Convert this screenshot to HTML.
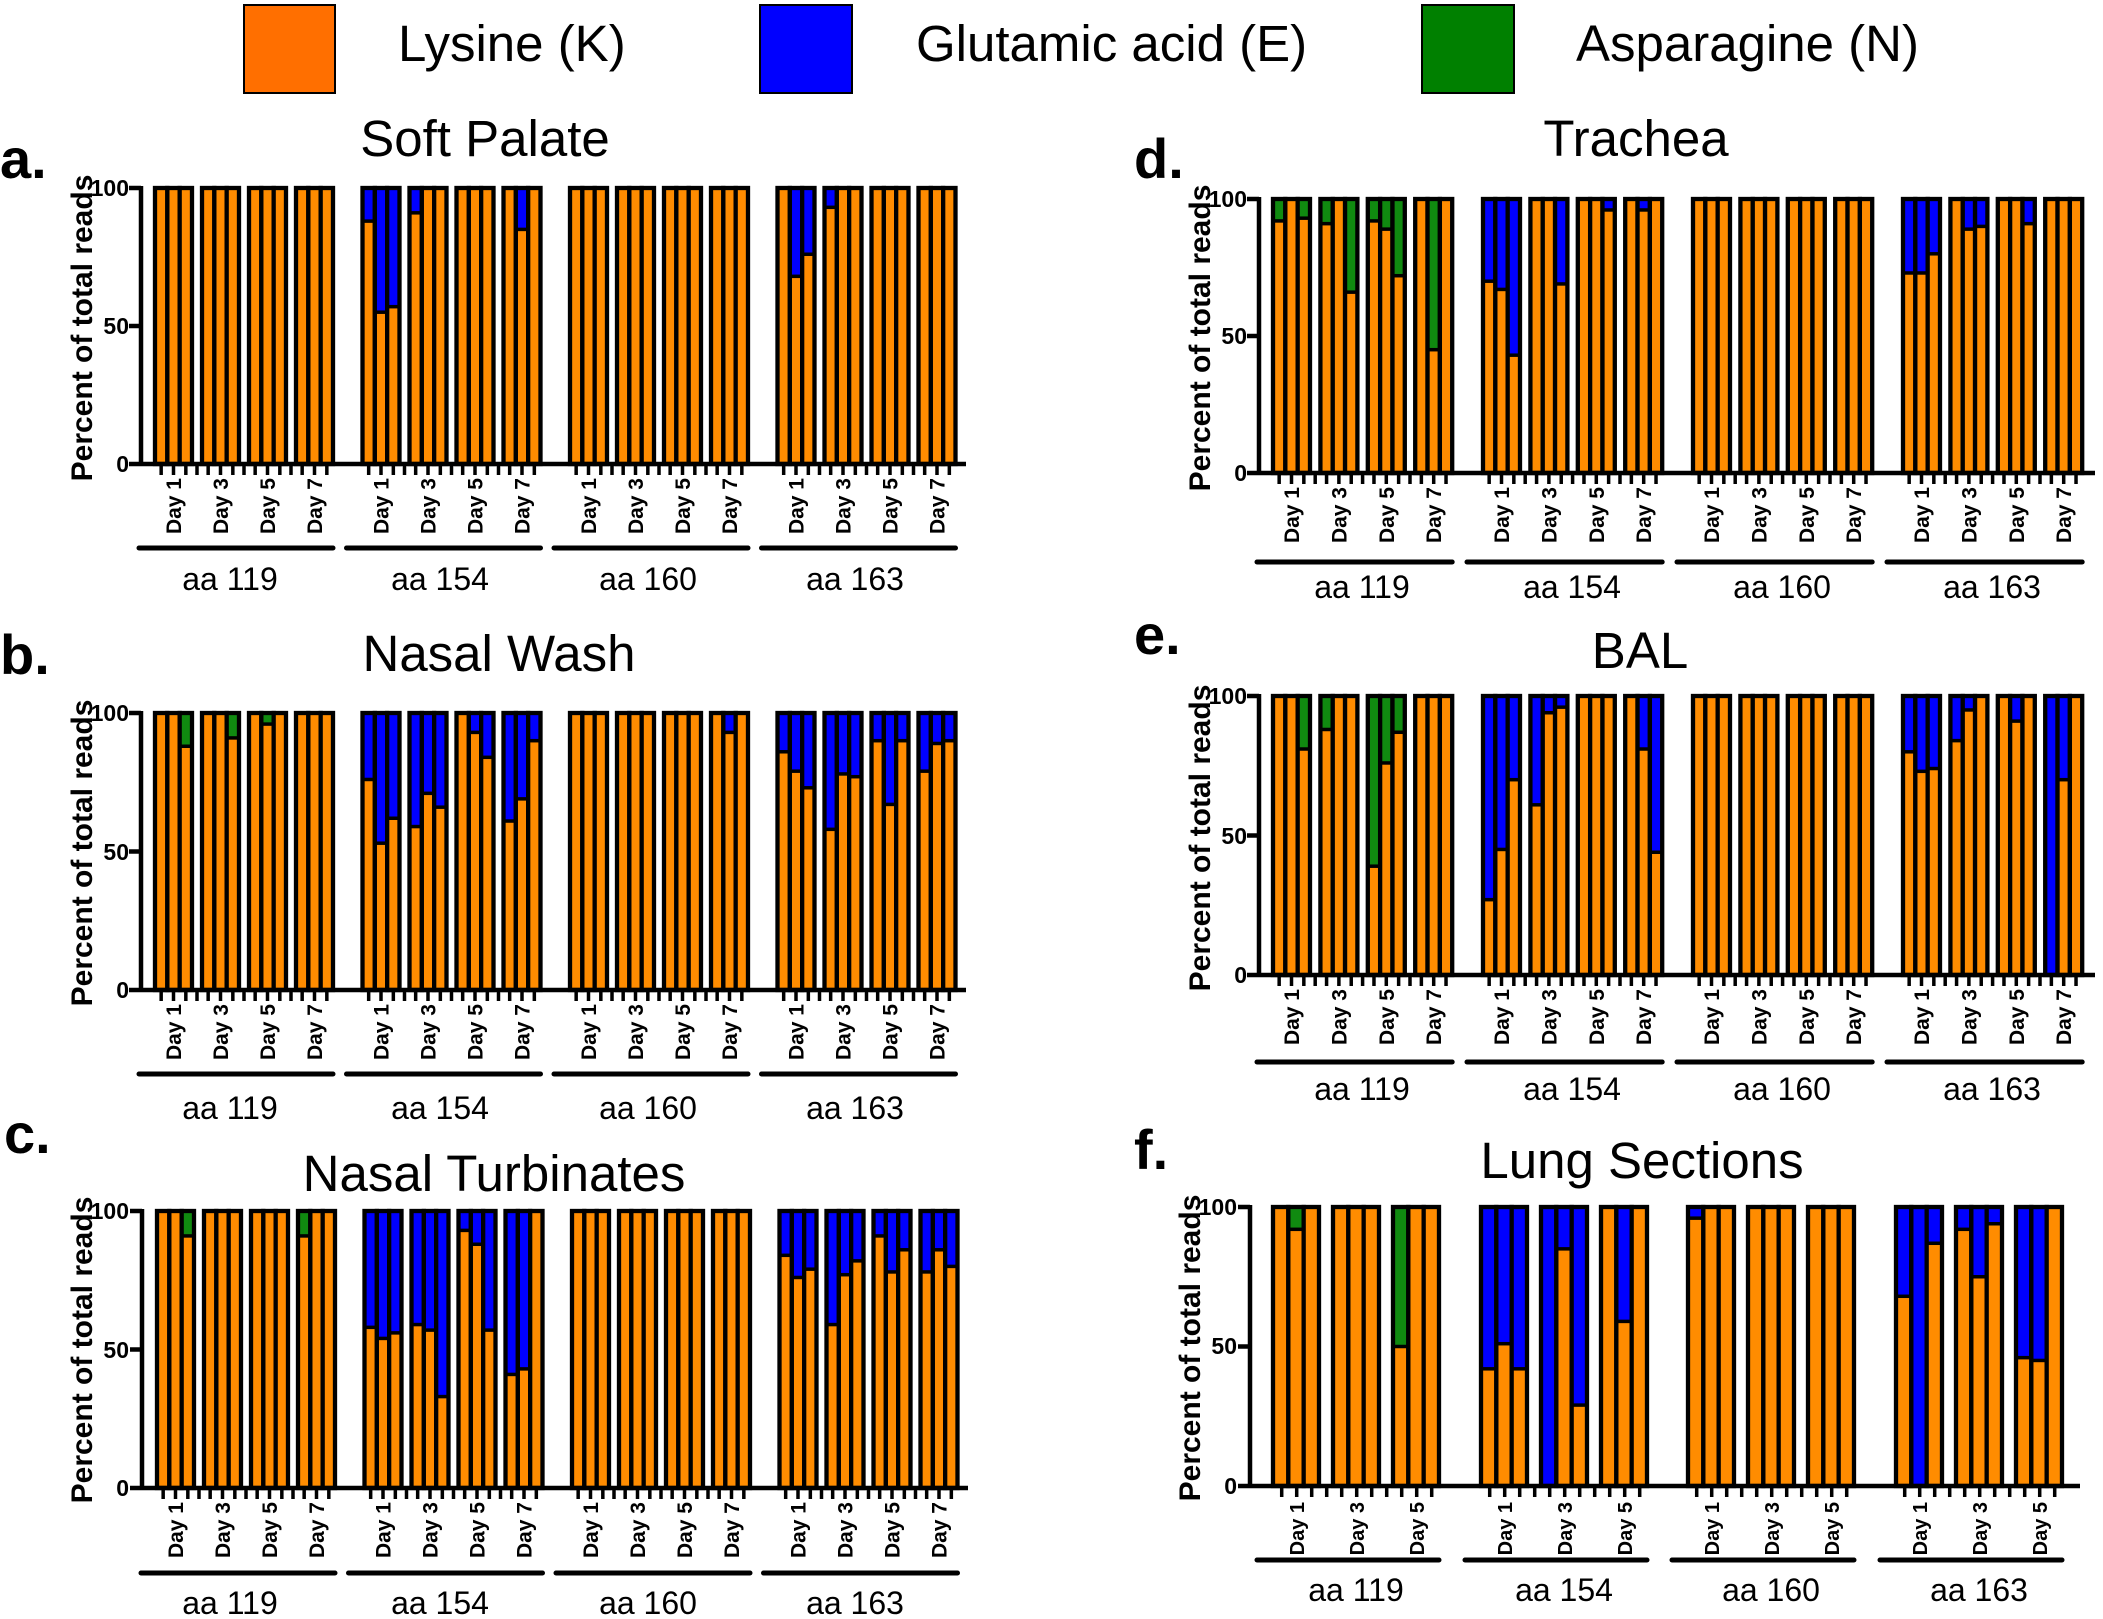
<!DOCTYPE html>
<html><head><meta charset="utf-8"><style>
html,body{margin:0;padding:0;background:#fff;}
svg{display:block;}
text{font-family:"Liberation Sans",Arial,sans-serif;fill:#000;}
.b{font-weight:bold;}
</style></head><body>
<svg id="s" xmlns="http://www.w3.org/2000/svg" width="2103" height="1619" viewBox="0 0 2103 1619">
<rect width="2103" height="1619" fill="#fff"/>
<rect x="244" y="5" width="91" height="88" fill="#FF6F00" stroke="#000" stroke-width="2"/>
<text x="398" y="61" font-size="51">Lysine (K)</text>
<rect x="760" y="5" width="92" height="88" fill="#0000FF" stroke="#000" stroke-width="2"/>
<text x="916" y="61" font-size="51">Glutamic acid (E)</text>
<rect x="1422" y="5" width="92" height="88" fill="#008000" stroke="#000" stroke-width="2"/>
<text x="1576" y="61" font-size="51">Asparagine (N)</text>
<text x="485" y="156" font-size="51" text-anchor="middle">Soft Palate</text>
<text x="499" y="671" font-size="51" text-anchor="middle">Nasal Wash</text>
<text x="494" y="1191" font-size="51" text-anchor="middle">Nasal Turbinates</text>
<text x="1636" y="156" font-size="51" text-anchor="middle">Trachea</text>
<text x="1640" y="668" font-size="51" text-anchor="middle">BAL</text>
<text x="1642" y="1178" font-size="51" text-anchor="middle">Lung Sections</text>
<text class="b" x="0" y="178" font-size="56">a.</text>
<text class="b" x="0" y="674" font-size="56">b.</text>
<text class="b" x="4" y="1153" font-size="56">c.</text>
<text class="b" x="1134" y="178" font-size="56">d.</text>
<text class="b" x="1134" y="654" font-size="56">e.</text>
<text class="b" x="1134" y="1169" font-size="56">f.</text>
<text class="b" font-size="30" text-anchor="middle" transform="translate(92,328) rotate(-90)">Percent of total reads</text>
<text class="b" font-size="30" text-anchor="middle" transform="translate(92,853) rotate(-90)">Percent of total reads</text>
<text class="b" font-size="30" text-anchor="middle" transform="translate(92,1350) rotate(-90)">Percent of total reads</text>
<text class="b" font-size="30" text-anchor="middle" transform="translate(1210,338) rotate(-90)">Percent of total reads</text>
<text class="b" font-size="30" text-anchor="middle" transform="translate(1210,838) rotate(-90)">Percent of total reads</text>
<text class="b" font-size="30" text-anchor="middle" transform="translate(1200,1348) rotate(-90)">Percent of total reads</text>
<g class="b" font-size="23" text-anchor="end">
<text x="129" y="196">100</text><text x="129" y="334">50</text><text x="129" y="472">0</text>
<text x="129" y="721">100</text><text x="129" y="860">50</text><text x="129" y="998">0</text>
<text x="129" y="1219">100</text><text x="129" y="1358">50</text><text x="129" y="1496">0</text>
<text x="1247" y="207">100</text><text x="1247" y="344">50</text><text x="1247" y="481">0</text>
<text x="1247" y="704">100</text><text x="1247" y="844">50</text><text x="1247" y="983">0</text>
<text x="1237" y="1215">100</text><text x="1237" y="1354">50</text><text x="1237" y="1494">0</text>
</g>
<g id="bars"></g>
<g font-size="32" text-anchor="middle">
<text x="230" y="590">aa 119</text><text x="440" y="590">aa 154</text><text x="648" y="590">aa 160</text><text x="855" y="590">aa 163</text>
<text x="230" y="1119">aa 119</text><text x="440" y="1119">aa 154</text><text x="648" y="1119">aa 160</text><text x="855" y="1119">aa 163</text>
<text x="230" y="1614">aa 119</text><text x="440" y="1614">aa 154</text><text x="648" y="1614">aa 160</text><text x="855" y="1614">aa 163</text>
<text x="1362" y="598">aa 119</text><text x="1572" y="598">aa 154</text><text x="1782" y="598">aa 160</text><text x="1992" y="598">aa 163</text>
<text x="1362" y="1100">aa 119</text><text x="1572" y="1100">aa 154</text><text x="1782" y="1100">aa 160</text><text x="1992" y="1100">aa 163</text>
<text x="1356" y="1601">aa 119</text><text x="1564" y="1601">aa 154</text><text x="1771" y="1601">aa 160</text><text x="1979" y="1601">aa 163</text>
</g>
<g class="b" font-size="21" text-anchor="end">
<g transform="translate(155,478)">
<g><text transform="translate(26,0) rotate(-90)">Day 1</text><text transform="translate(73,0) rotate(-90)">Day 3</text><text transform="translate(120,0) rotate(-90)">Day 5</text><text transform="translate(167,0) rotate(-90)">Day 7</text></g>
<g transform="translate(207.5,0)"><text transform="translate(26,0) rotate(-90)">Day 1</text><text transform="translate(73,0) rotate(-90)">Day 3</text><text transform="translate(120,0) rotate(-90)">Day 5</text><text transform="translate(167,0) rotate(-90)">Day 7</text></g>
<g transform="translate(415,0)"><text transform="translate(26,0) rotate(-90)">Day 1</text><text transform="translate(73,0) rotate(-90)">Day 3</text><text transform="translate(120,0) rotate(-90)">Day 5</text><text transform="translate(167,0) rotate(-90)">Day 7</text></g>
<g transform="translate(622.5,0)"><text transform="translate(26,0) rotate(-90)">Day 1</text><text transform="translate(73,0) rotate(-90)">Day 3</text><text transform="translate(120,0) rotate(-90)">Day 5</text><text transform="translate(167,0) rotate(-90)">Day 7</text></g>
</g>
<g transform="translate(155,1004)">
<g><text transform="translate(26,0) rotate(-90)">Day 1</text><text transform="translate(73,0) rotate(-90)">Day 3</text><text transform="translate(120,0) rotate(-90)">Day 5</text><text transform="translate(167,0) rotate(-90)">Day 7</text></g>
<g transform="translate(207.5,0)"><text transform="translate(26,0) rotate(-90)">Day 1</text><text transform="translate(73,0) rotate(-90)">Day 3</text><text transform="translate(120,0) rotate(-90)">Day 5</text><text transform="translate(167,0) rotate(-90)">Day 7</text></g>
<g transform="translate(415,0)"><text transform="translate(26,0) rotate(-90)">Day 1</text><text transform="translate(73,0) rotate(-90)">Day 3</text><text transform="translate(120,0) rotate(-90)">Day 5</text><text transform="translate(167,0) rotate(-90)">Day 7</text></g>
<g transform="translate(622.5,0)"><text transform="translate(26,0) rotate(-90)">Day 1</text><text transform="translate(73,0) rotate(-90)">Day 3</text><text transform="translate(120,0) rotate(-90)">Day 5</text><text transform="translate(167,0) rotate(-90)">Day 7</text></g>
</g>
<g transform="translate(157,1502)">
<g><text transform="translate(26,0) rotate(-90)">Day 1</text><text transform="translate(73,0) rotate(-90)">Day 3</text><text transform="translate(120,0) rotate(-90)">Day 5</text><text transform="translate(167,0) rotate(-90)">Day 7</text></g>
<g transform="translate(207.5,0)"><text transform="translate(26,0) rotate(-90)">Day 1</text><text transform="translate(73,0) rotate(-90)">Day 3</text><text transform="translate(120,0) rotate(-90)">Day 5</text><text transform="translate(167,0) rotate(-90)">Day 7</text></g>
<g transform="translate(415,0)"><text transform="translate(26,0) rotate(-90)">Day 1</text><text transform="translate(73,0) rotate(-90)">Day 3</text><text transform="translate(120,0) rotate(-90)">Day 5</text><text transform="translate(167,0) rotate(-90)">Day 7</text></g>
<g transform="translate(622.5,0)"><text transform="translate(26,0) rotate(-90)">Day 1</text><text transform="translate(73,0) rotate(-90)">Day 3</text><text transform="translate(120,0) rotate(-90)">Day 5</text><text transform="translate(167,0) rotate(-90)">Day 7</text></g>
</g>
<g transform="translate(1273,487)">
<g><text transform="translate(26,0) rotate(-90)">Day 1</text><text transform="translate(73.4,0) rotate(-90)">Day 3</text><text transform="translate(120.8,0) rotate(-90)">Day 5</text><text transform="translate(168.2,0) rotate(-90)">Day 7</text></g>
<g transform="translate(210,0)"><text transform="translate(26,0) rotate(-90)">Day 1</text><text transform="translate(73.4,0) rotate(-90)">Day 3</text><text transform="translate(120.8,0) rotate(-90)">Day 5</text><text transform="translate(168.2,0) rotate(-90)">Day 7</text></g>
<g transform="translate(420,0)"><text transform="translate(26,0) rotate(-90)">Day 1</text><text transform="translate(73.4,0) rotate(-90)">Day 3</text><text transform="translate(120.8,0) rotate(-90)">Day 5</text><text transform="translate(168.2,0) rotate(-90)">Day 7</text></g>
<g transform="translate(630,0)"><text transform="translate(26,0) rotate(-90)">Day 1</text><text transform="translate(73.4,0) rotate(-90)">Day 3</text><text transform="translate(120.8,0) rotate(-90)">Day 5</text><text transform="translate(168.2,0) rotate(-90)">Day 7</text></g>
</g>
<g transform="translate(1273,989)">
<g><text transform="translate(26,0) rotate(-90)">Day 1</text><text transform="translate(73.4,0) rotate(-90)">Day 3</text><text transform="translate(120.8,0) rotate(-90)">Day 5</text><text transform="translate(168.2,0) rotate(-90)">Day 7</text></g>
<g transform="translate(210,0)"><text transform="translate(26,0) rotate(-90)">Day 1</text><text transform="translate(73.4,0) rotate(-90)">Day 3</text><text transform="translate(120.8,0) rotate(-90)">Day 5</text><text transform="translate(168.2,0) rotate(-90)">Day 7</text></g>
<g transform="translate(420,0)"><text transform="translate(26,0) rotate(-90)">Day 1</text><text transform="translate(73.4,0) rotate(-90)">Day 3</text><text transform="translate(120.8,0) rotate(-90)">Day 5</text><text transform="translate(168.2,0) rotate(-90)">Day 7</text></g>
<g transform="translate(630,0)"><text transform="translate(26,0) rotate(-90)">Day 1</text><text transform="translate(73.4,0) rotate(-90)">Day 3</text><text transform="translate(120.8,0) rotate(-90)">Day 5</text><text transform="translate(168.2,0) rotate(-90)">Day 7</text></g>
</g>
<g transform="translate(1273,1502)" font-size="20">
<g><text transform="translate(31,0) rotate(-90)">Day 1</text><text transform="translate(91,0) rotate(-90)">Day 3</text><text transform="translate(151,0) rotate(-90)">Day 5</text></g>
<g transform="translate(208,0)"><text transform="translate(31,0) rotate(-90)">Day 1</text><text transform="translate(91,0) rotate(-90)">Day 3</text><text transform="translate(151,0) rotate(-90)">Day 5</text></g>
<g transform="translate(415,0)"><text transform="translate(31,0) rotate(-90)">Day 1</text><text transform="translate(91,0) rotate(-90)">Day 3</text><text transform="translate(151,0) rotate(-90)">Day 5</text></g>
<g transform="translate(623,0)"><text transform="translate(31,0) rotate(-90)">Day 1</text><text transform="translate(91,0) rotate(-90)">Day 3</text><text transform="translate(151,0) rotate(-90)">Day 5</text></g>
</g>
</g>
</svg>
<script>
(function(){
var NS="http://www.w3.org/2000/svg",G=document.getElementById("bars");
function el(t,a){var e=document.createElementNS(NS,t);for(var k in a)e.setAttribute(k,a[k]);G.appendChild(e);return e;}
var OR="#FF8C00",BL="#0000FF",GR="#108A10";
var F=["100","100","100"],A=[F,F,F,F];
var panels=[
{ax:141,x0:155,gp:[0,207.5,415,622.5],dp:47,w:37,t:188,b:464,end:966,lines:[548],
 d:[A,[["88E","55E","57E"],["91E","100","100"],F,["100","85E","100"]],A,[["100","68E","76E"],["93E","100","100"],F,F]]},
{ax:141,x0:155,gp:[0,207.5,415,622.5],dp:47,w:37,t:713,b:990,end:966,lines:[1074],
 d:[[["100","100","88N"],["100","100","91N"],["100","96N","100"],F],
    [["76E","53E","62E"],["59E","71E","66E"],["100","93E","84E"],["61E","69E","90E"]],
    [F,F,F,["100","93E","100"]],
    [["86E","79E","73E"],["58E","78E","77E"],["90E","67E","90E"],["79E","89E","90E"]]]},
{ax:142,x0:157,gp:[0,207.5,415,622.5],dp:47,w:37,t:1211,b:1488,end:968,lines:[1573],
 d:[[["100","100","91N"],F,F,["91N","100","100"]],
    [["58E","54E","56E"],["59E","57E","33E"],["93E","88E","57E"],["41E","43E","100"]],
    A,
    [["84E","76E","79E"],["59E","77E","82E"],["91E","78E","86E"],["78E","86E","80E"]]]},
{ax:1259,x0:1273,gp:[0,210,420,630],dp:47.4,w:37,t:199,b:473,end:2095,lines:[562],
 d:[[["92N","100","93N"],["91N","100","66N"],["92N","89N","72N"],["100","45N","100"]],
    [["70E","67E","43E"],["100","100","69E"],["100","100","96E"],["100","96E","100"]],
    A,
    [["73E","73E","80E"],["100","89E","90E"],["100","100","91E"],F]]},
{ax:1259,x0:1273,gp:[0,210,420,630],dp:47.4,w:37,t:696,b:975,end:2095,lines:[1062],
 d:[[["100","100","81N"],["88N","100","100"],["39N","76N","87N"],F],
    [["27E","45E","70E"],["61E","94E","96E"],F,["100","81E","44E"]],
    A,
    [["80E","73E","74E"],["84E","95E","100"],["100","91E","100"],["0E","70E","100"]]]},
{ax:1250,x0:1273,gp:[0,208,415,623],dp:60,w:46,t:1207,b:1486,end:2080,lines:[1560],even:true,
 d:[[["100","92N","100"],F,["50N","100","100"]],
    [["42E","51E","42E"],["0E","85E","29E"],["100","59E","100"]],
    [["96E","100","100"],F,F],
    [["68E","0E","87E"],["92E","75E","94E"],["46E","45E","100"]]]}
];
panels.forEach(function(p){
  var H=p.b-p.t;
  p.d.forEach(function(grp,g){
    var gx=p.x0+p.gp[g],n=grp.length;
    var lx1=gx-16,lx2=gx+(n-1)*p.dp+p.w;
    el("line",{x1:lx1,x2:lx2,y1:p.lines[0],y2:p.lines[0],stroke:"#000","stroke-width":5,"stroke-linecap":"round"});
    grp.forEach(function(day,d){
      var bx=gx+d*p.dp,bw=p.w/3;
      day.forEach(function(v,i){
        var x=bx+i*bw,pct=parseFloat(v),c=v.slice(-1);
        var yo=p.b-H*pct/100;
        el("rect",{x:x,y:p.t,width:bw,height:H,fill:(c=="N"?GR:BL)});
        if(pct>0)el("rect",{x:x,y:yo,width:bw,height:p.b-yo,fill:OR});
        if(pct>0&&pct<100)el("line",{x1:x,x2:x+bw,y1:yo,y2:yo,stroke:"#000","stroke-width":3.5});
        el("rect",{x:x,y:p.t,width:bw,height:H,fill:"none",stroke:"#000","stroke-width":4.3});
        if(!p.even)el("line",{x1:x+bw/2,x2:x+bw/2,y1:p.b,y2:p.b+11,stroke:"#000","stroke-width":3.5});
      });
      if(!p.even&&d<n-1){var gxx=bx+p.w+(p.dp-p.w)/2;el("line",{x1:gxx,x2:gxx,y1:p.b,y2:p.b+11,stroke:"#000","stroke-width":3.5});}
    });
    if(p.even){for(var k=0;k<11;k++){var tx=gx+8.7+15*k;el("line",{x1:tx,x2:tx,y1:p.b,y2:p.b+11,stroke:"#000","stroke-width":3.5});}}
  });
  el("line",{x1:p.ax,x2:p.ax,y1:p.t-2,y2:p.b+2,stroke:"#000","stroke-width":4.5});
  el("line",{x1:p.ax-12,x2:p.end,y1:p.b,y2:p.b,stroke:"#000","stroke-width":4.5});
  [p.t,(p.t+p.b)/2].forEach(function(y){el("line",{x1:p.ax-12,x2:p.ax,y1:y,y2:y,stroke:"#000","stroke-width":4.5});});
});
})();
</script>
</body></html>
